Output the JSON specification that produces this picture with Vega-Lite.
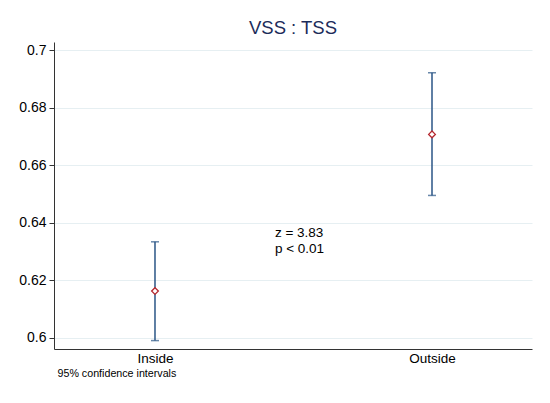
{
  "$schema": "https://vega.github.io/schema/vega-lite/v6.json",
  "width": 478,
  "height": 307,
  "autosize": {"type": "none"},
  "padding": {"left": 54, "top": 42, "right": 18, "bottom": 54},
  "background": "white",
  "config": {
    "font": "Liberation Sans",
    "view": {"stroke": null},
    "axis": {"labelFont": "Liberation Sans", "titleFont": "Liberation Sans", "labelColor": "#000000"}
  },
  "title": {
    "text": "VSS : TSS",
    "fontSize": 18.5,
    "fontWeight": "normal",
    "color": "#1c2b5a",
    "anchor": "middle",
    "baseline": "alphabetic",
    "offset": -10
  },
  "datasets": {
    "ci": [
      {"group": 1, "name": "Inside", "mean": 0.6163, "lower": 0.5991, "upper": 0.6334},
      {"group": 2, "name": "Outside", "mean": 0.6707, "lower": 0.6495, "upper": 0.6921}
    ],
    "notes": [
      {"xpos": 1.433, "ypos": 0.6364, "label": "z = 3.83"},
      {"xpos": 1.433, "ypos": 0.6308, "label": "p < 0.01"}
    ]
  },
  "encoding": {
    "x": {
      "type": "quantitative",
      "scale": {"domain": [0.6354, 2.361], "nice": false, "zero": false},
      "axis": {
        "values": [1, 2],
        "labelExpr": "datum.value == 1 ? 'Inside' : 'Outside'",
        "ticks": false,
        "grid": false,
        "labelFontSize": 13.5,
        "labelPadding": 2,
        "domainColor": "#333333",
        "domainWidth": 1,
        "title": "95% confidence intervals",
        "titleFontSize": 10.7,
        "titleFontWeight": "normal",
        "titleAnchor": "start",
        "titlePadding": 4,
        "titleX": 3
      }
    },
    "y": {
      "type": "quantitative",
      "scale": {"domain": [0.59618, 0.70278], "nice": false, "zero": false},
      "axis": {
        "values": [0.6, 0.62, 0.64, 0.66, 0.68, 0.7],
        "format": "~g",
        "title": null,
        "labelFontSize": 14,
        "labelPadding": 3,
        "tickSize": 5,
        "tickColor": "#333333",
        "domainColor": "#333333",
        "domainWidth": 1,
        "gridColor": "#e6eff2",
        "gridWidth": 1
      }
    }
  },
  "layer": [
    {
      "data": {"name": "ci"},
      "mark": {"type": "rule", "color": "#2a5586", "strokeWidth": 1.5},
      "encoding": {
        "x": {"field": "group"},
        "y": {"field": "lower"},
        "y2": {"field": "upper"}
      }
    },
    {
      "data": {"name": "ci"},
      "mark": {"type": "tick", "color": "#2a5586", "size": 8, "thickness": 1.5, "orient": "horizontal"},
      "encoding": {
        "x": {"field": "group"},
        "y": {"field": "lower"}
      }
    },
    {
      "data": {"name": "ci"},
      "mark": {"type": "tick", "color": "#2a5586", "size": 8, "thickness": 1.5, "orient": "horizontal"},
      "encoding": {
        "x": {"field": "group"},
        "y": {"field": "upper"}
      }
    },
    {
      "data": {"name": "ci"},
      "mark": {"type": "point", "shape": "diamond", "filled": true, "fill": "white", "stroke": "#b5282f", "strokeWidth": 1.3, "size": 45, "opacity": 1},
      "encoding": {
        "x": {"field": "group"},
        "y": {"field": "mean"}
      }
    },
    {
      "data": {"name": "notes"},
      "mark": {"type": "text", "align": "left", "baseline": "middle", "fontSize": 13.5, "color": "#000000"},
      "encoding": {
        "x": {"field": "xpos"},
        "y": {"field": "ypos"},
        "text": {"field": "label"}
      }
    }
  ]
}
